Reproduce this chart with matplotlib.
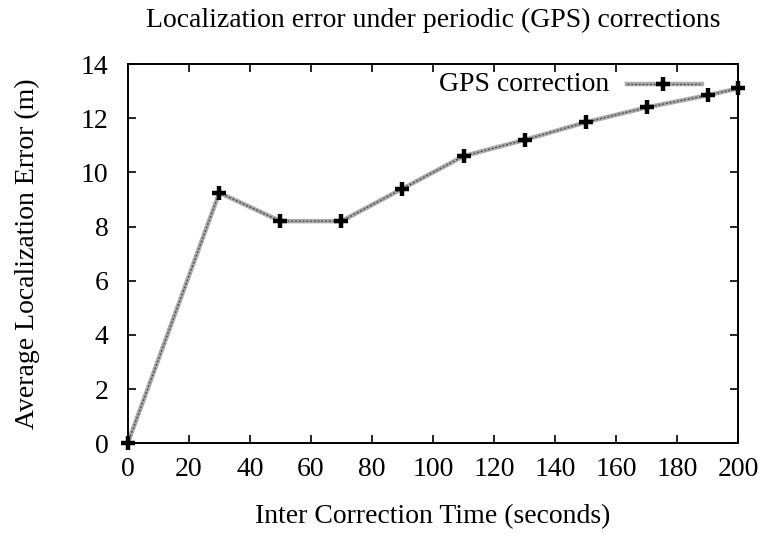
import numpy as np
import matplotlib.pyplot as plt

plt.rcParams['font.family'] = ['Liberation Serif', 'DejaVu Serif']

times = [0, 30, 50, 70, 90, 110, 130, 150, 170, 190, 200]
errors = [0.0, 9.25, 8.2, 8.2, 9.4, 10.6, 11.2, 11.85, 12.4, 12.85, 13.1]

fig = plt.figure(figsize=(7.65, 5.34), dpi=100)
ax = fig.add_axes([0.167, 0.170, 0.798, 0.710])

# gray band with dark dotted core, like the gnuplot output
ax.plot(times, errors, color='#aaaaaa', lw=3.2, zorder=2)
ax.plot(times, errors, color='#444444', lw=0.9, ls=(0, (1.5, 1.5)), zorder=3)
ax.plot(times, errors, ls='none', marker='+', color='black', ms=10.5, mew=3.2, zorder=4, clip_on=False)

# legend drawn by hand in axes coords
ax.text(0.789, 0.947, 'GPS correction', transform=ax.transAxes, ha='right', va='center', fontsize=20)
ax.plot([0.818, 0.941], [0.947, 0.947], transform=ax.transAxes, color='#aaaaaa', lw=3.2, clip_on=False)
ax.plot([0.818, 0.941], [0.947, 0.947], transform=ax.transAxes, color='#444444', lw=0.9, ls=(0, (1.5, 1.5)), clip_on=False)
ax.plot([0.877], [0.947], transform=ax.transAxes, marker='+', color='black', ms=10.5, mew=3.2, clip_on=False)

ax.set_xlim(0, 200)
ax.set_ylim(0, 14)
ax.set_xticks(np.arange(0, 201, 20))
ax.set_yticks(np.arange(0, 15, 2))
ax.tick_params(direction='in', top=True, right=True, labelsize=20, length=6, width=1.2)
ax.tick_params(axis='y', pad=14)
ax.tick_params(axis='x', pad=10)
for s in ax.spines.values():
    s.set_linewidth(1.4)

ax.set_xlabel('Inter Correction Time (seconds)', fontsize=20, labelpad=16)
ax.set_ylabel('Average Localization Error (m)', fontsize=20, labelpad=29)
ax.set_title('Localization error under periodic (GPS) corrections', fontsize=20, pad=27)

fig.savefig('out.png', dpi=100)
